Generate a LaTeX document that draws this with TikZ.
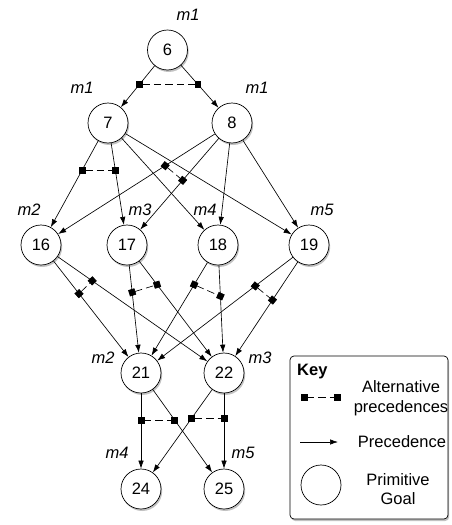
\documentclass[tikz,border=0pt]{standalone}
\usepackage{fontspec}
\setmainfont{Liberation Sans}
\usetikzlibrary{arrows.meta,calc,shadows}
\tikzset{
  goal/.style={circle, draw, line width=0.7pt, minimum size=40pt, inner sep=0pt,
               fill=white, font=\fontsize{16.5}{19.5}\selectfont},
  shade/.style={drop shadow={shadow xshift=1.2pt, shadow yshift=-2pt,
                opacity=.4, fill=black!60}},
  prec/.style={-{Latex[length=8pt, width=5.5pt]}, line width=0.65pt},
  % alternative precedences: dashed, a small square at either end
  altprec/.style={{Square[length=6.5pt]}-{Square[length=6.5pt]}, line width=0.65pt,
                  dash pattern=on 7.5pt off 4pt, shorten <=-3.25pt, shorten >=-3.25pt},
  lab/.style={font=\fontsize{16.5}{19.5}\selectfont\itshape, inner sep=1pt},
  keytext/.style={font=\fontsize{16.5}{19.5}\selectfont, align=center, inner sep=1pt},
}

\begin{document}
\begin{tikzpicture}[x=1pt, y=-1pt]
\useasboundingbox (0,0) rectangle (452,525);

%% ── primitive goals, top to bottom ───────────────────────────────────────
\node[goal, shade] (g6)  at (167.5,50) {6};
\node[goal, shade] (g7)  at (108,123)  {7};
\node[goal, shade] (g8)  at (232,123)  {8};
\node[goal, shade] (g16) at (41,245)   {16};
\node[goal, shade] (g17) at (127,245)  {17};
\node[goal, shade] (g18) at (218,245)  {18};
\node[goal, shade] (g19) at (309,245)  {19};
\node[goal, shade] (g21) at (141,373)  {21};
\node[goal, shade] (g22) at (224,373)  {22};
\node[goal, shade] (g24) at (141,489)  {24};
\node[goal, shade] (g25) at (224,489)  {25};

%% ── method labels ────────────────────────────────────────────────────────
\node[lab] (l6)  at (188,15)  {m1};
\node[lab] (l7)  at (82,88)   {m1};
\node[lab] (l8)  at (257,88)  {m1};
\node[lab] (l16) at (29,210)  {m2};
\node[lab] (l17) at (140,210) {m3};
\node[lab] (l18) at (205,210) {m4};
\node[lab] (l19) at (322,210) {m5};
\node[lab] (l21) at (103,358) {m2};
\node[lab] (l22) at (260,358) {m3};
\node[lab] (l24) at (117,453) {m4};
\node[lab] (l25) at (243,453) {m5};

%% ── precedences ──────────────────────────────────────────────────────────
\foreach \a/\b in {6/7, 6/8, 7/16, 7/17, 7/18, 7/19, 8/16, 8/17, 8/18, 8/19,
                   16/21, 16/22, 17/21, 17/22, 18/21, 18/22, 19/21, 19/22,
                   21/24, 21/25, 22/24, 22/25}
  \draw[prec] (g\a) -- (g\b);

%% ── alternatives: source / first / second / where on each edge ──────────
\foreach \s/\a/\b/\p/\q in {6/7/8/.47/.47, 7/16/17/.385/.385, 8/16/17/.35/.47,
                            16/21/22/.38/.28, 17/21/22/.37/.31, 18/21/22/.31/.40,
                            19/21/22/.32/.43, 21/24/25/.405/.405, 22/24/25/.39/.39}
  \draw[altprec] ($(g\s)!\p!(g\a)$) -- ($(g\s)!\q!(g\b)$);

%% ── key ──────────────────────────────────────────────────────────────────
\node[draw, line width=0.7pt, rounded corners=4pt, fill=white, shade,
      minimum width=158pt, minimum height=163pt] (key) at (369,437.5) {};
\node[font=\fontsize{16.5}{19.5}\selectfont\bfseries, anchor=west, inner sep=0pt]
  (keyhead) at (297,372) {Key};
\coordinate (ka1) at (304,397);
\coordinate (ka2) at (337,397);
\draw[altprec] (ka1) -- (ka2);
\node[keytext] (kalt) at (401,398) {Alternative\\precedences};
\coordinate (kp1) at (300,442);
\coordinate (kp2) at (338,442);
\draw[prec] (kp1) -- (kp2);
\node[keytext] (kprec) at (402,442) {Precedence};
\node[goal] (kgoal) at (321,485) {};
\node[keytext] (kgoaltxt) at (398,489) {Primitive\\Goal};

\end{tikzpicture}
\end{document}
